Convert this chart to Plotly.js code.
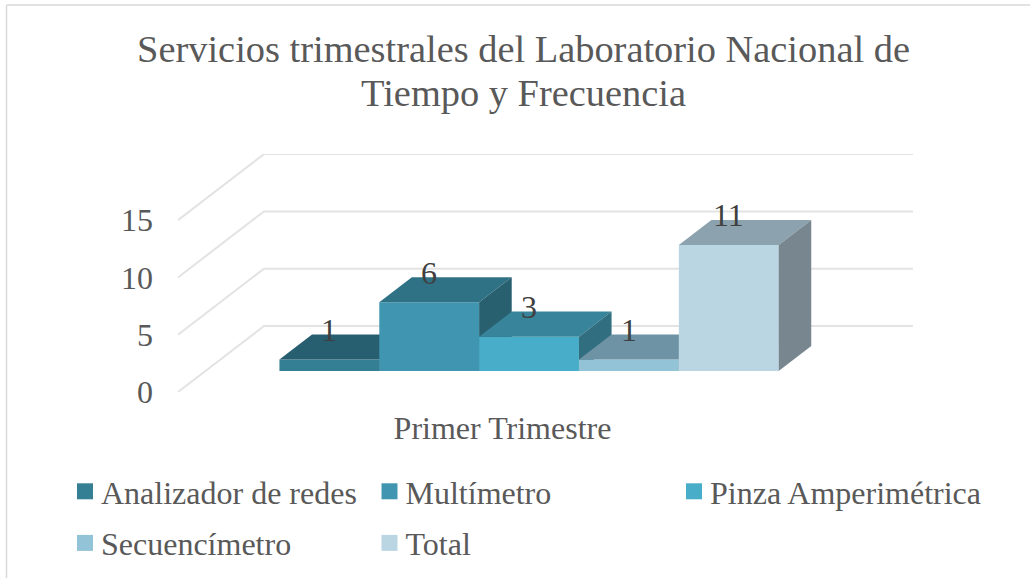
<!DOCTYPE html>
<html>
<head>
<meta charset="utf-8">
<script src="https://cdn.plot.ly/plotly-3.0.1.min.js"></script>
<style>html,body{margin:0;padding:0;background:#fff}#chart{width:1033px;height:578px}</style>
</head>
<body>
<div id="chart"></div>
<script>
const titleText = 'Servicios trimestrales del Laboratorio Nacional de<br>Tiempo y Frecuencia';
const category = 'Primer Trimestre';
const seriesNames = ['Analizador de redes', 'Multímetro', 'Pinza Amperimétrica', 'Secuencímetro', 'Total'];
const seriesValues = [1, 6, 3, 1, 11];
const frontColors = ['#357F94', '#4096B1', '#48ADC9', '#92C3D6', '#BBD6E3'];
const topColors = ['#275F70', '#2F7285', '#37849B', '#6D93A4', '#8CA3AF'];
const sideColors = ['#245A69', '#29606F', '#306E80', '#5F8090', '#78878F'];
const yTicks = [0, 5, 10, 15];

const F = 'Liberation Serif, Times New Roman, serif';
const GREY = '#595959';
const W = 1033, H = 578;
// plot rectangle in page pixels
const L = 178, R = 913, T = 154, B = 392;
const xDomain = [L / W, R / W];
const pxPerUnit = 11.46;
const bandPx = 649;           // width of the category band on the front plane
const xMax = (R - L) / bandPx;
const yMax = (B - T) / pxPerUnit;
// oblique floor depth expressed in axis units
const wallDx = 86 / bandPx, wallDy = 66 / pxPerUnit;
const gapRatio = 1.5;
const barW = 1 / (seriesValues.length + gapRatio);
const barDepth = 0.379, barFront = 0.318;
const barNudgeX = -0.8 / bandPx;

const axId = i => i === 0 ? '' : String(i + 1);
const traces = [];

// back walls and gridlines
yTicks.forEach(v => traces.push({
  type: 'scatter', mode: 'lines', showlegend: false, hoverinfo: 'skip',
  x: [0, wallDx, xMax], y: [v, v + wallDy, v + wallDy],
  line: {color: '#E3E3E3', width: 2}
}));

const annotations = [];
seriesValues.forEach((v, i) => {
  const xa = 'x' + axId(i), ya = 'y' + axId(i);
  const x0 = barW * (gapRatio / 2 + i) + barNudgeX, x1 = x0 + barW;
  const fx = barFront * wallDx, fy = barFront * wallDy;
  const bx = (barFront + barDepth) * wallDx, by = (barFront + barDepth) * wallDy;
  // top face
  traces.push({
    type: 'scatter', mode: 'lines', fill: 'toself', showlegend: false, hoverinfo: 'skip',
    xaxis: xa, yaxis: ya, fillcolor: topColors[i], line: {width: 0},
    x: [x0 + fx, x1 + fx, x1 + bx, x0 + bx, x0 + fx],
    y: [v + fy, v + fy, v + by, v + by, v + fy]
  });
  // side face
  traces.push({
    type: 'scatter', mode: 'lines', fill: 'toself', showlegend: false, hoverinfo: 'skip',
    xaxis: xa, yaxis: ya, fillcolor: sideColors[i], line: {width: 0},
    x: [x1 + fx, x1 + bx, x1 + bx, x1 + fx, x1 + fx],
    y: [fy, by, v + by, v + fy, fy]
  });
  // front face
  traces.push({
    type: 'bar', name: seriesNames[i], showlegend: false,
    xaxis: xa, yaxis: ya,
    x: [(x0 + x1) / 2 + fx], y: [v], base: [fy], width: [barW],
    marker: {color: frontColors[i], line: {width: 0}}
  });
  // legend key
  traces.push({
    type: 'scatter', mode: 'markers', name: seriesNames[i], showlegend: true,
    xaxis: xa, yaxis: ya, x: [null], y: [null], hoverinfo: 'skip',
    marker: {symbol: 'square', size: 16, color: frontColors[i]}
  });
  annotations.push({
    xref: 'x', yref: 'y', x: (x0 + x1) / 2 + fx, y: v + by + 0.4,
    text: String(v), showarrow: false, xanchor: 'center', yanchor: 'middle',
    font: {family: F, size: 32, color: '#404040'}
  });
});

const yPaper = px => (B - px) / (B - T);
const layout = {
  width: W, height: H,
  paper_bgcolor: '#fff', plot_bgcolor: 'rgba(0,0,0,0)',
  margin: {l: 0, r: 0, t: T, b: H - B, pad: 0},
  title: {
    text: titleText, x: 523.5 / W, xanchor: 'center', xref: 'container',
    y: 1 - 62 / H, yanchor: 'auto',
    font: {family: F, size: 38.4, color: GREY}
  },
  xaxis: {
    domain: xDomain,
    range: [0, xMax], showgrid: false, zeroline: false, showline: false, ticks: '',
    tickmode: 'array', tickvals: [0.5], ticktext: [category], ticklabelstandoff: 14,
    tickfont: {family: F, size: 32, color: GREY}
  },
  yaxis: {
    range: [0, yMax], showgrid: false, zeroline: false, showline: false, ticks: '',
    tickmode: 'array', tickvals: yTicks, ticktext: yTicks.map(String), ticklabelstandoff: 24,
    tickfont: {family: F, size: 32, color: GREY}
  },
  barmode: 'overlay',
  showlegend: true,
  legend: {
    orientation: 'h', xref: 'container', yref: 'container',
    x: 65 / W, y: 1 - 464 / H, xanchor: 'left', yanchor: 'top',
    entrywidth: 259.5, entrywidthmode: 'pixels', itemclick: false, itemdoubleclick: false,
    font: {family: F, size: 32, color: GREY}, bgcolor: 'rgba(0,0,0,0)', tracegroupgap: 0
  },
  annotations: annotations,
  shapes: [
    {type: 'line', xref: 'paper', yref: 'paper', layer: 'below',
     x0: 6.5 / W, x1: 6.5 / W, y0: yPaper(5), y1: yPaper(H),
     line: {color: '#D9D9D9', width: 1.5}},
    {type: 'line', xref: 'paper', yref: 'paper', layer: 'below',
     x0: 6.5 / W, x1: 1030 / W, y0: yPaper(5), y1: yPaper(5),
     line: {color: '#D9D9D9', width: 1.5}}
  ]
};
seriesValues.forEach((v, i) => {
  if (i === 0) return;
  layout['xaxis' + axId(i)] = {domain: xDomain, overlaying: 'x', matches: 'x', visible: false};
  layout['yaxis' + axId(i)] = {overlaying: 'y', matches: 'y', visible: false};
});
Plotly.newPlot('chart', traces, layout, {displayModeBar: false, responsive: false}).then(() => {
  // tighter title line pitch, as in the reference
  const lines = document.querySelectorAll('.gtitle .line');
  if (lines[1]) lines[1].setAttribute('dy', '44px');
  // legend spacing of the reference: wider rows, closer labels, no clipping of the last column
  document.querySelectorAll('.legend .scrollbox').forEach(e => {
    e.removeAttribute('clip-path');
    e.style.clipPath = 'none';
  });
  let firstY = null;
  document.querySelectorAll('.legend .traces').forEach(e => {
    const m = /translate\(\s*([-\d.]+)[ ,]+([-\d.]+)\)/.exec(e.getAttribute('transform') || '');
    if (m) {
      const y = +m[2];
      if (firstY === null) firstY = y;
      if (y > firstY) e.setAttribute('transform', 'translate(' + m[1] + ',' + (y + 7) + ')');
    }
  });
  document.querySelectorAll('.legend .legendtext').forEach(e => {
    e.setAttribute('x', +e.getAttribute('x') - 4);
    e.querySelectorAll('tspan').forEach(t => { if (t.hasAttribute('x')) t.setAttribute('x', +t.getAttribute('x') - 4); });
  });
});
</script>
</body>
</html>
